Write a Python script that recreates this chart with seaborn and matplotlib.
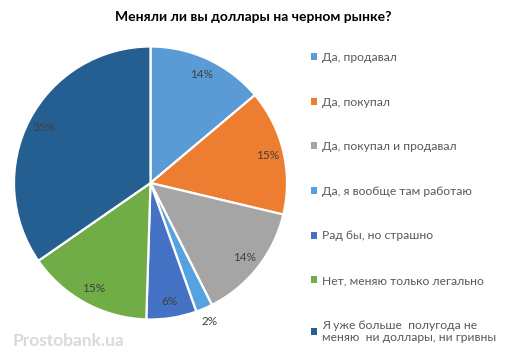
import matplotlib
matplotlib.use("Agg")
import matplotlib.pyplot as plt
import seaborn as sns
import numpy as np

categories = ["Да, продавал", "Да, покупал", "Да, покупал и продавал",
              "Да, я вообще там работаю", "Рад бы, но страшно",
              "Нет, меняю только легально",
              "Я уже больше  полугода не\nменяю  ни доллары, ни гривны"]
values = [14, 15, 14, 2, 6, 15, 35]
colors = ["#5B9BD5", "#ED7D31", "#A5A5A5", "#56A2E0", "#4472C4", "#70AD47", "#255E91"]
title = "Меняли ли вы доллары на черном рынке?"
watermark = "Prostobank.ua"

sns.set_theme(style="white")
plt.rcParams['font.family'] = ['Lato', 'DejaVu Sans']

fig = plt.figure(figsize=(5.06, 3.59), dpi=100)
W, H = 506, 359
cx, cy, R = 150.5, 183, 136.5
ax = fig.add_axes([(cx - R) / W, (H - cy - R) / H, 2 * R / W, 2 * R / H])

wedges, _ = ax.pie(values, colors=sns.color_palette(colors), startangle=90,
                   counterclock=False,
                   wedgeprops=dict(edgecolor="white", linewidth=1.6))
ax.set_xlim(-1, 1)
ax.set_ylim(-1, 1)

for w, v in zip(wedges, values):
    ang = np.deg2rad((w.theta1 + w.theta2) / 2)
    r = 1.1 if v < 5 else 0.88
    ax.text(r * np.cos(ang), r * np.sin(ang), f"{v}%", ha="center", va="center",
            fontsize=8.5, color="#404040")

fig.text(0.5, 1 - 17 / H, title, ha="center", va="center", fontsize=10,
         fontweight="bold", color="#000000")

leg = fig.legend(wedges, categories, loc="upper left",
                 bbox_to_anchor=(311 / W, 1 - 52 / H), frameon=False,
                 fontsize=8.7, handlelength=0.5, handleheight=0.5,
                 handletextpad=0.45, labelspacing=2.78, borderpad=0,
                 borderaxespad=0)
for t in leg.get_texts():
    t.set_color("#595959")
for h in leg.legend_handles:
    h.set_edgecolor("none")

fig.text(13 / W, 1 - 341 / H, watermark, ha="left", va="center", fontsize=12.5,
         fontweight="bold", color="#D9D9D9")

fig.savefig("out.png", dpi=100)
